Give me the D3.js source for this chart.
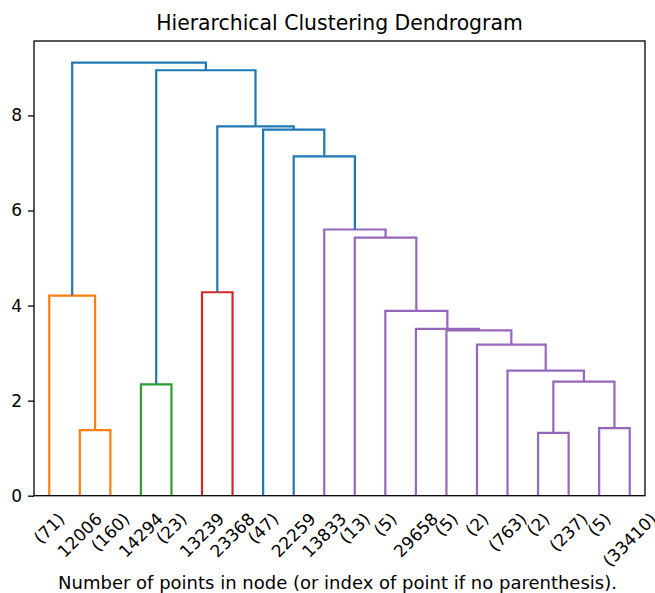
<!DOCTYPE html>
<html>
<head>
<meta charset="utf-8">
<script src="https://cdn.jsdelivr.net/npm/d3@7"></script>
<style>
  body { margin: 0; background: #fff; }
  svg { display: block; font-family: "DejaVu Sans", sans-serif; }
</style>
</head>
<body>
<svg id="chart" width="655" height="593"></svg>
<script>
// leaf labels, left to right
var LEAVES = ["(71)", "12006", "(160)", "14294", "(23)", "13239", "23368", "(47)", "22259", "13833",
  "(13)", "(5)", "29658", "(5)", "(2)", "(763)", "(2)", "(237)", "(5)", "(33410)"];

// merges, scipy style: node 20 + i joins LEFT[i] and RIGHT[i] at HEIGHT[i]
var LEFT   = [1,    16,   18,   3,    21,   15,   14,   13,   12,   11,   0,    5,    10,   9,    8,    7,    31,   23,   30];
var RIGHT  = [2,    17,   19,   4,    22,   24,   25,   26,   27,   28,   20,   6,    29,   32,   33,   34,   35,   36,   37];
var HEIGHT = [1.38, 1.32, 1.42, 2.34, 2.40, 2.63, 3.18, 3.48, 3.51, 3.89, 4.21, 4.28, 5.43, 5.60, 7.14, 7.70, 7.77, 8.95, 9.11];
var GROUP  = ["C1", "C4", "C4", "C2", "C4", "C4", "C4", "C4", "C4", "C4", "C1", "C3", "C4", "C4", "C0", "C0", "C0", "C0", "C0"];

var Y_TICKS = [0, 2, 4, 6, 8];

var COLORS = {C0: "#1f77b4", C1: "#ff7f0e", C2: "#2ca02c", C3: "#d62728", C4: "#9467bd"};

document.addEventListener("DOMContentLoaded", function() {
  drawDendrogram();
});

function drawDendrogram() {
  const svg = d3.select("#chart"),
    left = 34, right = 645, top = 41, bottom = 495.7;

  const n = LEAVES.length;
  const maxH = d3.max(HEIGHT);

  const x = d3.scaleLinear().domain([0, n * 10]).range([left, right]);
  const y = d3.scaleLinear().domain([0, maxH * 1.05]).range([bottom, top]);

  // positions of every node (leaves first, then merges)
  var pos = LEAVES.map((d, i) => ({x: 5 + 10 * i, h: 0}));
  LEFT.forEach(function(l, i) {
    var a = pos[l], b = pos[RIGHT[i]];
    pos.push({x: (a.x + b.x) / 2, h: HEIGHT[i]});
  });

  const links = LEFT.map((l, i) => ({a: pos[l], b: pos[RIGHT[i]], h: HEIGHT[i], g: GROUP[i]}));

  svg.append("g")
    .selectAll("path")
    .data(links)
    .enter()
      .append("path")
      .attr("fill", "none")
      .attr("stroke", (d) => COLORS[d.g])
      .attr("stroke-width", 2.2)
      .attr("d", (d) => "M" + x(d.a.x) + "," + y(d.a.h) + "V" + y(d.h) + "H" + x(d.b.x) + "V" + y(d.b.h));

  // frame
  svg.append("rect")
    .attr("x", left).attr("y", top)
    .attr("width", right - left).attr("height", bottom - top)
    .attr("fill", "none").attr("stroke", "#000").attr("stroke-width", 1.3);

  // y axis
  const yAxis = d3.axisLeft(y).tickValues(Y_TICKS).tickSize(6).tickPadding(6).tickFormat(d3.format("d"));
  const ya = svg.append("g").attr("transform", "translate(" + left + ",0)").call(yAxis);
  ya.select(".domain").remove();
  ya.selectAll("line").attr("stroke", "#000").attr("stroke-width", 1.3);
  ya.selectAll("text").attr("font-size", 17).attr("fill", "#000").attr("font-family", "DejaVu Sans");

  // rotated leaf labels, bbox centred on the leaf like matplotlib
  const fs = 17, y0 = 509;
  const lab = svg.append("g").attr("font-size", fs).attr("fill", "#000");
  LEAVES.forEach(function(t, i) {
    var txt = lab.append("text").attr("text-anchor", "middle").attr("dy", "0.346em").text(t);
    var w = txt.node().getComputedTextLength();
    var hgt = 1.164 * fs;
    var cx = x(5 + 10 * i), cy = y0 + (w + hgt) / (2 * Math.SQRT2);
    txt.attr("x", cx).attr("y", cy).attr("transform", "rotate(-45," + cx + "," + cy + ")");
  });

  svg.append("text")
    .attr("x", (left + right) / 2 - 2).attr("y", 589)
    .attr("text-anchor", "middle").attr("font-size", 18)
    .text("Number of points in node (or index of point if no parenthesis).");

  svg.append("text")
    .attr("x", (left + right) / 2).attr("y", 30)
    .attr("text-anchor", "middle").attr("font-size", 20.4)
    .text("Hierarchical Clustering Dendrogram");
}
</script>
</body>
</html>
